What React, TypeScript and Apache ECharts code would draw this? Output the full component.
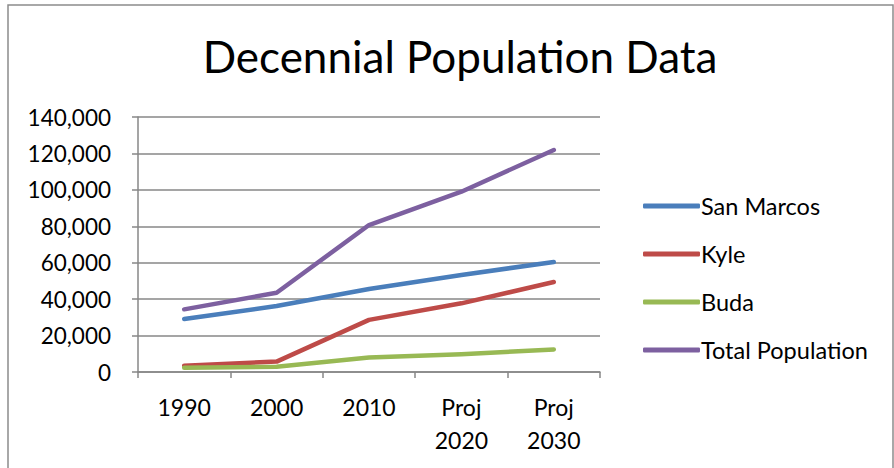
import React, { useEffect, useRef } from "react";
import * as echarts from "echarts";

const categories = ["1990", "2000", "2010", "Proj\n2020", "Proj\n2030"];
const sanMarcos = [29100, 36200, 45600, 53300, 60400];
const kyle = [3500, 5700, 28600, 37700, 49400];
const buda = [2400, 2900, 7900, 9700, 12400];
const totalPopulation = [34400, 43500, 80700, 99000, 121900];
const seriesNames = ["San Marcos", "Kyle", "Buda", "Total Population"];
const colors = ["#4A7EBB", "#BE4B48", "#98B954", "#7D60A0"];

const FONT = "Lato";

export default function App() {
  const ref = useRef<HTMLDivElement>(null);
  useEffect(() => {
    if (!ref.current) return;
    const chart = echarts.init(ref.current, null, { renderer: "svg" });
    const data = [sanMarcos, kyle, buda, totalPopulation];
    chart.setOption({
      animation: false,
      backgroundColor: "#ffffff",
      title: {
        text: "Decennial Population Data",
        left: 455,
        top: 29,
        textAlign: "center",
        textStyle: { fontFamily: FONT, fontSize: 44, fontWeight: "normal", color: "#000" },
      },
      graphic: [
        {
          type: "rect",
          shape: { x: 8, y: 5, width: 885, height: 480 },
          style: { fill: "none", stroke: "#8c8c8c", lineWidth: 1.5 },
          silent: true,
        },
      ],
      legend: {
        orient: "vertical",
        left: 638,
        top: 189,
        itemWidth: 57,
        itemHeight: 5,
        itemGap: 24,
        icon: "roundRect",
        data: seriesNames,
        textStyle: { fontFamily: FONT, fontSize: 23.5, color: "#000", lineHeight: 23.5, padding: [0, 0, 0, -4] },
      },
      grid: { left: 138, right: 294, top: 117, bottom: 96, containLabel: false },
      xAxis: {
        type: "category",
        data: categories,
        boundaryGap: true,
        axisLine: { lineStyle: { color: "#878787", width: 1.5 } },
        axisTick: { show: true, length: 6, lineStyle: { color: "#878787", width: 1.5 } },
        axisLabel: {
          fontFamily: FONT,
          fontSize: 23,
          color: "#000",
          lineHeight: 33,
          margin: 18,
          interval: 0,
        },
      },
      yAxis: {
        type: "value",
        min: 0,
        max: 140000,
        interval: 20000,
        axisLine: { show: true, lineStyle: { color: "#878787", width: 1.5 } },
        axisTick: { show: true, length: 6, lineStyle: { color: "#878787", width: 1.5 } },
        splitLine: { show: true, lineStyle: { color: "#878787", width: 1.5 } },
        axisLabel: {
          fontFamily: FONT,
          fontSize: 22.5,
          color: "#000",
          margin: 27,
          formatter: (v: number) => v.toLocaleString("en-US"),
        },
      },
      series: seriesNames.map((name, i) => ({
        name,
        type: "line",
        data: data[i],
        showSymbol: false,
        symbol: "none",
        color: colors[i],
        lineStyle: { width: 4.5, color: colors[i], cap: "round", join: "round" },
      })),
    });
    return () => chart.dispose();
  }, []);
  return (
    <div
      ref={ref}
      style={{ position: "absolute", left: 0, top: 0, width: 894, height: 468 }}
    />
  );
}
